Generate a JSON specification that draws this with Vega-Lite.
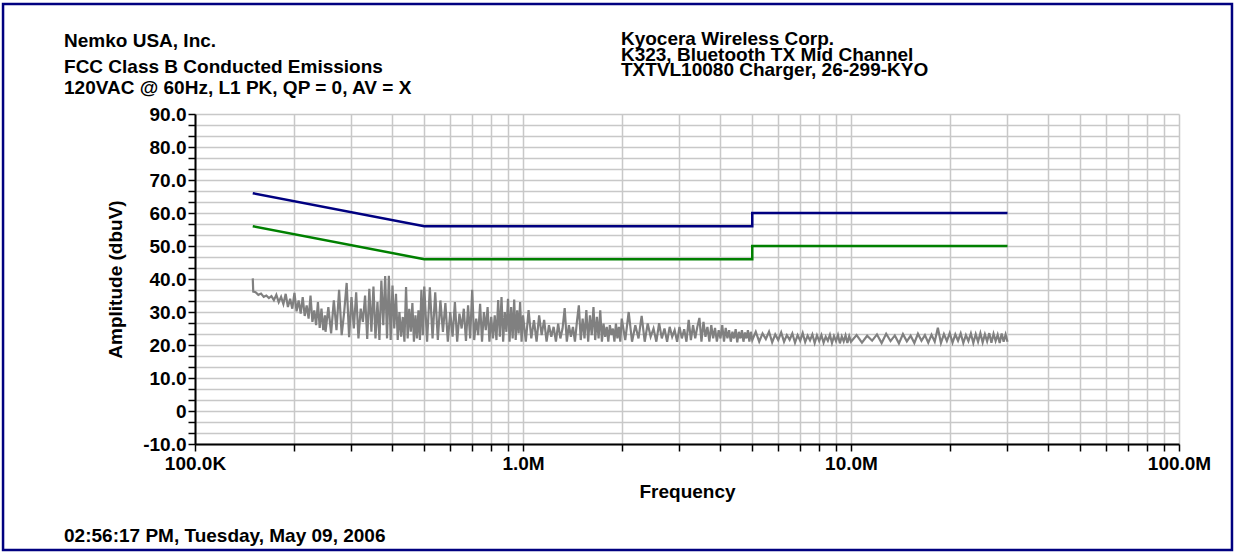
{
  "$schema": "https://vega.github.io/schema/vega-lite/v6.json",
  "width": 984,
  "height": 330,
  "autosize": {"type": "none"},
  "padding": {"left": 195, "top": 114, "right": 57, "bottom": 111},
  "background": "white",
  "config": {"view": {"stroke": null}, "text": {"font": "Liberation Sans", "fontWeight": "bold", "fontSize": 19, "color": "black", "align": "left", "baseline": "alphabetic"}},
  "datasets": {
    "trace": [
      {"f":150000,"a":40.2},{"f":150500,"a":36.2},{"f":153000,"a":36.0},{"f":156000,"a":35.2},{"f":159000,"a":35.6},{"f":162000,"a":34.6},{"f":165000,"a":35.0},{"f":168000,"a":34.2},{"f":171000,"a":34.8},{"f":174000,"a":33.6},{"f":177000,"a":35.2},
      {"f":180000,"a":33.0},{"f":183000,"a":34.6},{"f":186000,"a":32.4},{"f":189000,"a":35.5},{"f":192000,"a":31.5},{"f":195000,"a":34.0},{"f":198000,"a":31.0},{"f":201000,"a":35.8},{"f":204000,"a":30.2},{"f":207000,"a":33.5},
      {"f":210000,"a":29.5},{"f":213000,"a":34.5},{"f":216000,"a":28.8},{"f":219000,"a":32.0},{"f":222000,"a":28.0},{"f":225000,"a":35.0},{"f":228000,"a":27.0},{"f":231000,"a":30.5},{"f":234000,"a":26.0},{"f":237000,"a":33.0},
      {"f":240000,"a":25.2},{"f":243000,"a":31.0},{"f":246000,"a":24.5},{"f":249000,"a":29.0},
      {"f":250000,"a":24.0},{"f":255000,"a":31.5},{"f":260000,"a":23.5},{"f":265000,"a":33.5},{"f":270000,"a":24.5},{"f":275000,"a":36.7},{"f":280000,"a":23.0},{"f":285000,"a":30.0},{"f":290000,"a":38.8},{"f":295000,"a":22.4},
      {"f":300000,"a":34.5},{"f":305000,"a":25.0},{"f":310000,"a":36.0},{"f":315000,"a":22.0},{"f":320000,"a":31.0},{"f":325000,"a":27.0},{"f":330000,"a":35.0},{"f":335000,"a":21.8},{"f":340000,"a":37.0},{"f":345000,"a":24.0},
      {"f":350000,"a":37.7},{"f":355000,"a":22.0},{"f":360000,"a":33.0},{"f":365000,"a":21.5},{"f":370000,"a":39.5},{"f":375000,"a":26.0},{"f":380000,"a":40.9},{"f":385000,"a":22.0},{"f":390000,"a":41.0},{"f":395000,"a":21.5},
      {"f":400000,"a":38.0},{"f":405000,"a":25.0},{"f":410000,"a":35.5},{"f":415000,"a":21.5},{"f":420000,"a":30.0},{"f":425000,"a":22.5},{"f":430000,"a":28.5},{"f":435000,"a":21.0},{"f":440000,"a":37.6},{"f":445000,"a":22.0},
      {"f":450000,"a":31.0},{"f":455000,"a":24.0},{"f":460000,"a":32.7},{"f":465000,"a":21.0},{"f":470000,"a":29.0},{"f":475000,"a":22.0},{"f":480000,"a":30.5},{"f":485000,"a":21.5},{"f":490000,"a":36.7},{"f":495000,"a":23.0},
      {"f":500000,"a":37.7},
      {"f":510000,"a":21.0},{"f":520000,"a":37.5},{"f":530000,"a":22.0},{"f":540000,"a":36.0},{"f":550000,"a":21.5},{"f":560000,"a":33.5},{"f":570000,"a":24.0},{"f":580000,"a":32.7},{"f":590000,"a":21.0},{"f":600000,"a":30.0},
      {"f":610000,"a":22.5},{"f":620000,"a":33.0},{"f":630000,"a":21.0},{"f":640000,"a":29.5},{"f":650000,"a":25.0},{"f":660000,"a":31.0},{"f":670000,"a":21.2},{"f":680000,"a":32.0},{"f":690000,"a":22.0},{"f":700000,"a":36.7},
      {"f":710000,"a":21.5},{"f":720000,"a":28.0},{"f":730000,"a":23.0},{"f":740000,"a":32.5},{"f":750000,"a":21.0},{"f":760000,"a":30.0},{"f":770000,"a":24.5},{"f":780000,"a":31.5},{"f":790000,"a":21.0},{"f":800000,"a":28.5},
      {"f":810000,"a":22.0},{"f":820000,"a":29.0},{"f":830000,"a":21.5},{"f":840000,"a":33.6},{"f":850000,"a":22.5},{"f":860000,"a":34.5},{"f":870000,"a":21.0},{"f":880000,"a":30.0},{"f":890000,"a":24.0},{"f":900000,"a":34.0},
      {"f":910000,"a":21.0},{"f":920000,"a":31.5},{"f":930000,"a":22.0},{"f":940000,"a":33.8},{"f":950000,"a":21.5},{"f":960000,"a":30.5},{"f":970000,"a":23.5},{"f":980000,"a":33.0},{"f":990000,"a":21.0},{"f":1000000,"a":29.0},
      {"f":1020000,"a":21.0},{"f":1040000,"a":30.6},{"f":1060000,"a":22.0},{"f":1080000,"a":27.5},{"f":1100000,"a":21.0},{"f":1120000,"a":29.0},{"f":1140000,"a":23.0},{"f":1160000,"a":27.6},{"f":1180000,"a":21.0},{"f":1200000,"a":26.0},
      {"f":1220000,"a":22.5},{"f":1240000,"a":25.5},{"f":1260000,"a":21.0},{"f":1280000,"a":26.5},{"f":1300000,"a":22.0},{"f":1320000,"a":25.0},{"f":1340000,"a":31.2},{"f":1360000,"a":21.0},{"f":1380000,"a":26.0},{"f":1400000,"a":22.5},
      {"f":1420000,"a":25.5},{"f":1440000,"a":21.0},{"f":1460000,"a":27.0},{"f":1480000,"a":32.0},{"f":1500000,"a":21.5},{"f":1520000,"a":28.0},{"f":1540000,"a":22.0},{"f":1560000,"a":30.6},{"f":1580000,"a":21.0},{"f":1600000,"a":29.0},
      {"f":1620000,"a":23.0},{"f":1640000,"a":31.5},{"f":1660000,"a":21.5},{"f":1680000,"a":28.5},{"f":1700000,"a":22.0},{"f":1720000,"a":30.5},{"f":1740000,"a":21.0},{"f":1760000,"a":26.5},{"f":1780000,"a":22.5},{"f":1800000,"a":25.5},
      {"f":1820000,"a":21.0},{"f":1840000,"a":26.0},{"f":1860000,"a":23.0},{"f":1880000,"a":25.0},{"f":1900000,"a":21.0},{"f":1920000,"a":26.5},{"f":1940000,"a":22.0},{"f":1960000,"a":25.5},{"f":1980000,"a":21.0},{"f":2000000,"a":28.0},
      {"f":2050000,"a":21.5},{"f":2100000,"a":30.0},{"f":2150000,"a":21.0},{"f":2200000,"a":26.0},{"f":2250000,"a":22.0},{"f":2300000,"a":28.8},{"f":2350000,"a":21.0},{"f":2400000,"a":26.5},{"f":2450000,"a":22.5},{"f":2500000,"a":25.0},
      {"f":2550000,"a":21.0},{"f":2600000,"a":26.6},{"f":2650000,"a":22.0},{"f":2700000,"a":25.0},{"f":2750000,"a":21.0},{"f":2800000,"a":25.5},{"f":2850000,"a":22.5},{"f":2900000,"a":24.5},{"f":2950000,"a":21.0},{"f":3000000,"a":25.5},
      {"f":3050000,"a":22.0},{"f":3100000,"a":24.8},{"f":3150000,"a":21.0},{"f":3200000,"a":27.6},{"f":3250000,"a":21.5},{"f":3300000,"a":26.0},{"f":3350000,"a":22.0},{"f":3400000,"a":25.5},{"f":3450000,"a":28.2},{"f":3500000,"a":21.0},
      {"f":3550000,"a":27.0},{"f":3600000,"a":22.5},{"f":3650000,"a":25.5},{"f":3700000,"a":21.0},{"f":3750000,"a":26.0},{"f":3800000,"a":22.0},{"f":3850000,"a":25.2},{"f":3900000,"a":21.0},{"f":3950000,"a":24.5},{"f":4000000,"a":22.0},
      {"f":4050000,"a":26.0},{"f":4100000,"a":21.0},{"f":4150000,"a":25.2},{"f":4200000,"a":22.0},{"f":4250000,"a":24.5},{"f":4300000,"a":21.0},{"f":4350000,"a":24.0},{"f":4400000,"a":22.0},{"f":4450000,"a":24.8},{"f":4500000,"a":20.8},
      {"f":4550000,"a":24.0},{"f":4600000,"a":22.0},{"f":4650000,"a":24.5},{"f":4700000,"a":21.0},{"f":4750000,"a":23.8},{"f":4800000,"a":22.0},{"f":4850000,"a":24.5},{"f":4900000,"a":21.0},{"f":4950000,"a":24.0},{"f":5000000,"a":21.5},
      {"f":5125000,"a":24.0},{"f":5250000,"a":21.0},{"f":5375000,"a":23.5},{"f":5500000,"a":21.8},{"f":5625000,"a":24.0},{"f":5750000,"a":20.8},{"f":5875000,"a":23.2},{"f":6000000,"a":21.5},{"f":6125000,"a":23.8},{"f":6250000,"a":21.0},
      {"f":6375000,"a":23.0},{"f":6500000,"a":21.6},{"f":6625000,"a":23.5},{"f":6750000,"a":20.7},{"f":6875000,"a":23.0},{"f":7000000,"a":21.3},{"f":7125000,"a":23.6},{"f":7250000,"a":20.9},{"f":7375000,"a":22.8},{"f":7500000,"a":21.4},
      {"f":7625000,"a":23.2},{"f":7750000,"a":20.6},{"f":7875000,"a":22.9},{"f":8000000,"a":21.2},{"f":8125000,"a":23.0},{"f":8250000,"a":20.7},{"f":8375000,"a":22.5},{"f":8500000,"a":21.3},{"f":8625000,"a":23.1},{"f":8750000,"a":20.6},
      {"f":8875000,"a":22.7},{"f":9000000,"a":21.2},{"f":9125000,"a":23.0},{"f":9250000,"a":20.5},{"f":9375000,"a":22.6},{"f":9500000,"a":21.1},{"f":9625000,"a":22.9},{"f":9750000,"a":20.6},{"f":9875000,"a":22.7},{"f":10000000,"a":21.0},
      {"f":10400000,"a":23.0},{"f":10800000,"a":20.7},{"f":11200000,"a":22.8},{"f":11600000,"a":21.3},{"f":12000000,"a":23.2},{"f":12400000,"a":20.6},{"f":12800000,"a":23.4},{"f":13200000,"a":21.2},{"f":13600000,"a":22.9},{"f":14000000,"a":20.5},
      {"f":14400000,"a":23.3},{"f":14800000,"a":21.1},{"f":15200000,"a":22.8},{"f":15600000,"a":20.6},{"f":16000000,"a":23.4},{"f":16400000,"a":21.3},{"f":16800000,"a":23.0},{"f":17200000,"a":20.7},{"f":17600000,"a":23.1},{"f":18000000,"a":21.0},
      {"f":18400000,"a":25.2},{"f":18800000,"a":20.6},{"f":19200000,"a":23.3},{"f":19600000,"a":21.2},{"f":20000000,"a":23.6},{"f":20400000,"a":20.7},{"f":20800000,"a":23.2},{"f":21200000,"a":21.3},{"f":21600000,"a":23.5},{"f":22000000,"a":20.6},
      {"f":22400000,"a":23.0},{"f":22800000,"a":21.2},{"f":23200000,"a":23.5},{"f":23600000,"a":20.6},{"f":24000000,"a":23.3},{"f":24400000,"a":21.0},{"f":24800000,"a":23.6},{"f":25200000,"a":20.8},{"f":25600000,"a":23.2},{"f":26000000,"a":21.1},
      {"f":26400000,"a":23.6},{"f":26800000,"a":20.7},{"f":27200000,"a":23.4},{"f":27600000,"a":21.2},{"f":28000000,"a":23.1},{"f":28400000,"a":20.6},{"f":28800000,"a":23.5},{"f":29200000,"a":21.0},{"f":29600000,"a":23.2},{"f":30000000,"a":21.0}
    ],
    "limits": [
      {"f":150000,"a":66,"s":"QP","o":1},{"f":500000,"a":56,"s":"QP","o":2},{"f":5000000,"a":56,"s":"QP","o":3},{"f":5000000,"a":60,"s":"QP","o":4},{"f":30000000,"a":60,"s":"QP","o":5},
      {"f":150000,"a":56,"s":"AV","o":1},{"f":500000,"a":46,"s":"AV","o":2},{"f":5000000,"a":46,"s":"AV","o":3},{"f":5000000,"a":50,"s":"AV","o":4},{"f":30000000,"a":50,"s":"AV","o":5}
    ]
  },
  "layer": [
    {
      "data": {"name": "trace"},
      "mark": {"type": "line", "color": "#808080", "strokeWidth": 2.2},
      "encoding": {
        "x": {
          "field": "f", "type": "quantitative",
          "scale": {"type": "log", "domain": [100000, 100000000], "nice": false},
          "axis": {
            "values": [100000,200000,300000,400000,500000,600000,700000,800000,900000,1000000,2000000,3000000,4000000,5000000,6000000,7000000,8000000,9000000,10000000,20000000,30000000,40000000,50000000,60000000,70000000,80000000,90000000,100000000],
            "tickCount": 200,
            "labelExpr": "datum.value == 100000 ? '100.0K' : datum.value == 1000000 ? '1.0M' : datum.value == 10000000 ? '10.0M' : datum.value == 100000000 ? '100.0M' : ''",
            "labelOverlap": false, "labelFlush": false, "labelBound": false,
            "grid": true, "gridColor": "#c8c8c8", "gridWidth": 1.5,
            "domainColor": "black", "domainWidth": 2,
            "tickColor": "black", "tickWidth": 1.5, "tickSize": 7,
            "labelFont": "Liberation Sans", "labelFontWeight": "bold", "labelFontSize": 19, "labelColor": "black", "labelPadding": 3,
            "title": "Frequency", "titleFont": "Liberation Sans", "titleFontWeight": "bold", "titleFontSize": 19, "titleColor": "black", "titlePadding": 9
          }
        },
        "y": {
          "field": "a", "type": "quantitative",
          "scale": {"domain": [-10, 90], "nice": false, "zero": false},
          "axis": {
            "values": [-10,-6.6667,-3.3333,0,3.3333,6.6667,10,13.3333,16.6667,20,23.3333,26.6667,30,33.3333,36.6667,40,43.3333,46.6667,50,53.3333,56.6667,60,63.3333,66.6667,70,73.3333,76.6667,80,83.3333,86.6667,90],
            "tickCount": 200,
            "labelExpr": "datum.value % 10 == 0 ? (datum.value == 0 ? '0' : datum.value < 0 ? '-' + format(-datum.value, '.1f') : format(datum.value, '.1f')) : ''",
            "labelOverlap": false, "labelFlush": false, "labelBound": false,
            "grid": true, "gridColor": "#c8c8c8", "gridWidth": 1.5,
            "domainColor": "black", "domainWidth": 2,
            "tickColor": "black", "tickWidth": 1.5, "tickSize": 7,
            "labelFont": "Liberation Sans", "labelFontWeight": "bold", "labelFontSize": 19, "labelColor": "black", "labelPadding": 2,
            "title": "Amplitude (dbuV)", "titleFont": "Liberation Sans", "titleFontWeight": "bold", "titleFontSize": 19, "titleColor": "black", "titlePadding": 17
          }
        }
      }
    },
    {
      "data": {"name": "limits"},
      "mark": {"type": "line", "strokeWidth": 2.5},
      "encoding": {
        "x": {"field": "f", "type": "quantitative"},
        "y": {"field": "a", "type": "quantitative"},
        "color": {"field": "s", "type": "nominal", "scale": {"domain": ["QP", "AV"], "range": ["#000080", "#008000"]}, "legend": null},
        "order": {"field": "o", "type": "quantitative"}
      }
    },
    {
      "data": {"values": [{}]},
      "mark": {"type": "text"},
      "encoding": {"x": {"datum": 39880, "type": "quantitative"}, "y": {"datum": 110.3, "type": "quantitative"}, "text": {"value": "Nemko USA, Inc."}}
    },
    {
      "data": {"values": [{}]},
      "mark": {"type": "text"},
      "encoding": {"x": {"datum": 39880, "type": "quantitative"}, "y": {"datum": 102.42, "type": "quantitative"}, "text": {"value": "FCC Class B Conducted Emissions"}}
    },
    {
      "data": {"values": [{}]},
      "mark": {"type": "text"},
      "encoding": {"x": {"datum": 39880, "type": "quantitative"}, "y": {"datum": 96.06, "type": "quantitative"}, "text": {"value": "120VAC @ 60Hz, L1 PK, QP = 0, AV = X"}}
    },
    {
      "data": {"values": [{}]},
      "mark": {"type": "text"},
      "encoding": {"x": {"datum": 1989000, "type": "quantitative"}, "y": {"datum": 110.91, "type": "quantitative"}, "text": {"value": "Kyocera Wireless Corp."}}
    },
    {
      "data": {"values": [{}]},
      "mark": {"type": "text"},
      "encoding": {"x": {"datum": 1989000, "type": "quantitative"}, "y": {"datum": 106.06, "type": "quantitative"}, "text": {"value": "K323, Bluetooth TX Mid Channel"}}
    },
    {
      "data": {"values": [{}]},
      "mark": {"type": "text"},
      "encoding": {"x": {"datum": 1989000, "type": "quantitative"}, "y": {"datum": 101.52, "type": "quantitative"}, "text": {"value": "TXTVL10080 Charger, 26-299-KYO"}}
    },
    {
      "data": {"values": [{}]},
      "mark": {"type": "text"},
      "encoding": {"x": {"datum": 39880, "type": "quantitative"}, "y": {"datum": -39.7, "type": "quantitative"}, "text": {"value": "02:56:17 PM, Tuesday, May 09, 2006"}}
    },
    {
      "data": {"values": [{}]},
      "mark": {"type": "rect", "fillOpacity": 0, "fill": "white", "stroke": "#000080", "strokeWidth": 2.5},
      "encoding": {
        "x": {"datum": 25987, "type": "quantitative"},
        "x2": {"datum": 145050000},
        "y": {"datum": 123.33, "type": "quantitative"},
        "y2": {"datum": -42.12}
      }
    }
  ]
}
